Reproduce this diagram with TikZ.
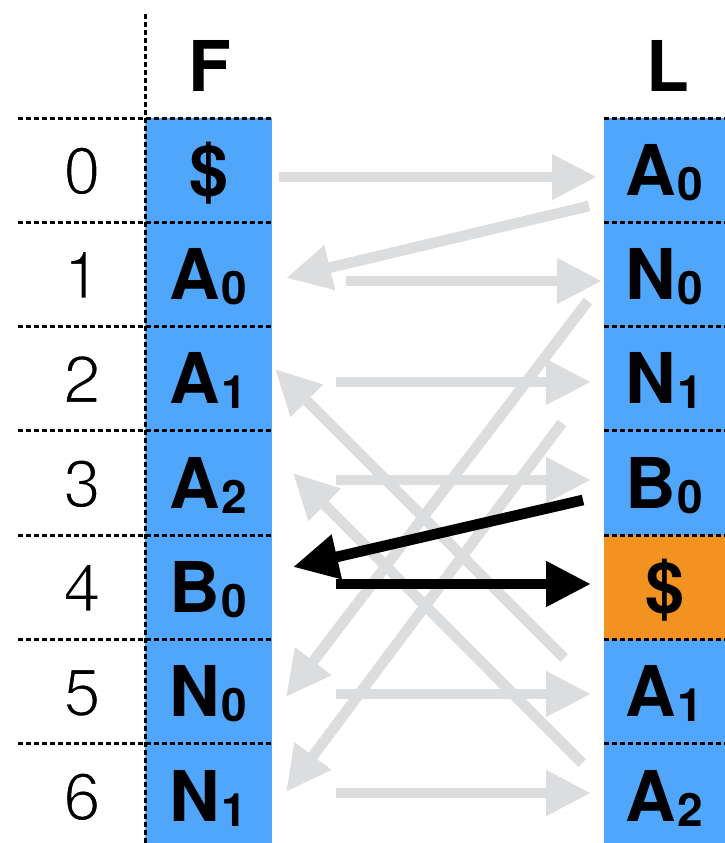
\documentclass[tikz,border=0pt]{standalone}
\usepackage{fontspec}
\setmainfont{TeX Gyre Heros}
\usetikzlibrary{arrows.meta}
\definecolor{cellblue}{RGB}{80,166,250}
\definecolor{cellorange}{RGB}{242,146,32}
\definecolor{arrowgrey}{RGB}{220,221,223}
\newcommand\subd[1]{\kern2pt\raisebox{-5pt}{\fontsize{46}{46}\selectfont #1}}
\newcommand\thindigit[1]{\special{pdf:code 2 Tr 1.8 w 1 1 1 RG}#1\special{pdf:code 0 Tr 0 0 0 RG}}
\tikzset{
  cellbox/.style={draw=none, fill=cellblue, minimum height=104.3pt, inner sep=0pt,
    text height=50pt, text depth=0pt, font=\fontsize{70}{70}\selectfont\bfseries},
  cellF/.style={cellbox, minimum width=127pt},
  cellL/.style={cellbox, minimum width=121pt},
  hdr/.style={inner sep=0pt, text height=50pt, text depth=0pt, font=\fontsize{70}{70}\selectfont\bfseries},
  idx/.style={inner sep=0pt, text height=48pt, text depth=0pt, font=\fontsize{67}{67}\selectfont},
  gridline/.style={line width=3pt, dash pattern=on 5pt off 3pt},
  garrow/.style={draw=arrowgrey, line width=10.7pt, -{Triangle[length=45pt,width=43pt]}},
  barrow/.style={draw=black, line width=10.7pt, -{Triangle[length=45pt,width=43pt]}},
}
\begin{document}
\begin{tikzpicture}[x=1pt,y=-1pt]
\useasboundingbox (0,0) rectangle (725,843);
% headers
\node[hdr] (hF) at (210,67) {F};
\node[hdr] (hL) at (668,67) {L};
% F column
\node[cellF] (f0) at (208.5,170.2) {\$};
\node[cellF] (f1) at (208.5,274.5) {A\subd{0}};
\node[cellF] (f2) at (208.5,378.8) {A\subd{1}};
\node[cellF] (f3) at (208.5,483.1) {A\subd{2}};
\node[cellF] (f4) at (208.5,587.4) {B\subd{0}};
\node[cellF] (f5) at (208.5,691.7) {N\subd{0}};
\node[cellF] (f6) at (208.5,796.0) {N\subd{1}};
% L column
\node[cellL] (l0) at (664.5,170.2) {A\subd{0}};
\node[cellL] (l1) at (664.5,274.5) {N\subd{0}};
\node[cellL] (l2) at (664.5,378.8) {N\subd{1}};
\node[cellL] (l3) at (664.5,483.1) {B\subd{0}};
\node[cellL, fill=cellorange] (l4) at (664.5,587.4) {\$};
\node[cellL] (l5) at (664.5,691.7) {A\subd{1}};
\node[cellL] (l6) at (664.5,796.0) {A\subd{2}};
% indices
\foreach \i in {0,...,6} {
  \node[idx] (n\i) at (82,170.2+104.3*\i) {\thindigit{\i}};
}
% dashed grid
\foreach \i in {0,...,6} {
  \draw[gridline] (18,118+104.3*\i) -- (272,118+104.3*\i);
  \draw[gridline] (604,118+104.3*\i) -- (725,118+104.3*\i);
}
\draw[gridline] (145,14) -- (145,843);
% arrow end points
\coordinate (a1s) at (279,177);  \coordinate (a1t) at (597,177);
\coordinate (a2s) at (589,206);  \coordinate (a2t) at (286,278);
\coordinate (a3s) at (346,281);  \coordinate (a3t) at (602,281);
\coordinate (a4s) at (588,301);  \coordinate (a4t) at (286,697);
\coordinate (a5s) at (336,382);  \coordinate (a5t) at (591,382);
\coordinate (a6s) at (562,423);  \coordinate (a6t) at (286,792);
\coordinate (a7s) at (336,480);  \coordinate (a7t) at (591,480);
\coordinate (a8s) at (564,658);  \coordinate (a8t) at (275,369);
\coordinate (a9s) at (582,763);  \coordinate (a9t) at (293,473);
\coordinate (a10s) at (336,694); \coordinate (a10t) at (591,694);
\coordinate (a11s) at (336,793); \coordinate (a11t) at (591,793);
\coordinate (b1s) at (583,500);  \coordinate (b1t) at (293,567);
\coordinate (b2s) at (336,584);  \coordinate (b2t) at (591,584);
% grey arrows
\foreach \k in {1,...,11} { \draw[garrow] (a\k s) -- (a\k t); }
% black arrows
\draw[barrow] (b1s) -- (b1t);
\draw[barrow] (b2s) -- (b2t);
\end{tikzpicture}
\end{document}
